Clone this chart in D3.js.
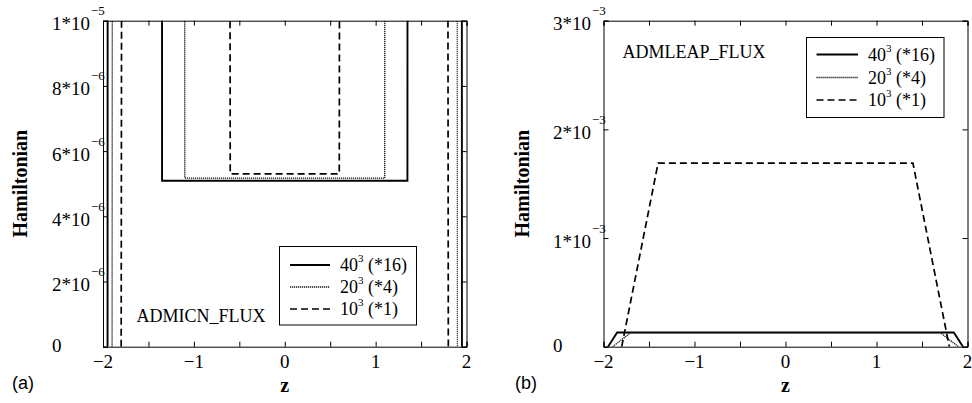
<!DOCTYPE html>
<html><head><meta charset="utf-8">
<script src="https://cdn.jsdelivr.net/npm/d3@7"></script>
<style>body{margin:0;background:#fff} svg{display:block}</style>
</head><body><svg id="c" width="972" height="403"></svg>
<script>
// ---- shared axis data ----
const zTicks = [-2, -1.5, -1, -0.5, 0, 0.5, 1, 1.5, 2];
const zTickLabels = ["−2", "", "−1", "", "0", "", "1", "", "2"];

// ---- panel (a) ADMICN_FLUX ----
const aYTicks = [0, 2e-6, 4e-6, 6e-6, 8e-6, 1e-5];
const aYMant = ["0", "2*10", "4*10", "6*10", "8*10", "1*10"];
const aYExp = ["", "−6", "−6", "−6", "−6", "−5"];
const icn40_z = [-1.95, -1.85, -1.45, -1.35, 1.35, 1.45, 1.85, 1.95];
const icn40_H = [0, 1e-3, 1e-3, 5.09e-6, 5.09e-6, 1e-3, 1e-3, 0];
const icn20_z = [-1.9, -1.7, -1.3, -1.1, 1.1, 1.3, 1.7, 1.9];
const icn20_H = [0, 1e-3, 1e-3, 5.17e-6, 5.17e-6, 1e-3, 1e-3, 0];
const icn10_z = [-1.8, -1.4, -1.0, -0.6, 0.6, 1.0, 1.4, 1.8];
const icn10_H = [0, 1e-3, 1e-3, 5.3e-6, 5.3e-6, 1e-3, 1e-3, 0];

// ---- panel (b) ADMLEAP_FLUX ----
const bYTicks = [0, 1e-3, 2e-3, 3e-3];
const bYMant = ["0", "1*10", "2*10", "3*10"];
const bYExp = ["", "−3", "−3", "−3"];
const leap40_z = [-1.95, -1.85, 1.85, 1.95];
const leap40_H = [0, 1.3e-4, 1.3e-4, 0];
const leap20_z = [-1.9, -1.7, 1.7, 1.9];
const leap20_H = [0, 1.3e-4, 1.3e-4, 0];
const leap10_z = [-1.8, -1.4, 1.4, 1.8];
const leap10_H = [0, 1.69e-3, 1.69e-3, 0];

// ---- legend ----
const legendBase = ["40", "20", "10"];
const legendSup = ["3", "3", "3"];
const legendFactor = [" (*16)", " (*4)", " (*1)"];

const styles = [
  {w: 1.9, dash: null, col: "#000"},
  {w: 1.3, dash: "1.2,0.8", col: "#111"},
  {w: 1.7, dash: "7,4", col: "#000"}
];

const svg = d3.select("#c");
const SERIF = "'Liberation Serif','Times New Roman',serif";

function panel(cfg) {
  const g = svg.append("g");
  const x = d3.scaleLinear().domain([-2, 2]).range([cfg.x0, cfg.x1]);
  const y = d3.scaleLinear().domain([0, cfg.yMax]).range([cfg.y1, cfg.y0]);
  const clipId = "clip" + cfg.id;
  svg.append("clipPath").attr("id", clipId).append("rect")
    .attr("x", cfg.x0).attr("y", cfg.y0)
    .attr("width", cfg.x1 - cfg.x0).attr("height", cfg.y1 - cfg.y0);

  // series
  const line = d3.line().x(d => x(d[0])).y(d => y(d[1]));
  cfg.series.forEach((s, i) => {
    const pts = s.z.map((z, k) => [z, s.H[k]]);
    g.append("path").attr("clip-path", `url(#${clipId})`)
      .attr("d", line(pts)).attr("fill", "none")
      .attr("stroke", styles[i].col).attr("stroke-width", styles[i].w)
      .attr("stroke-dasharray", styles[i].dash);
  });

  // axes (ticks inward on all sides)
  const tl = 5;
  const bottom = d3.axisBottom(x).tickValues(zTicks).tickSize(-tl).tickFormat("");
  const top = d3.axisTop(x).tickValues(zTicks).tickSize(-tl).tickFormat("");
  const left = d3.axisLeft(y).tickValues(cfg.yTicks).tickSize(-tl).tickFormat("");
  const right = d3.axisRight(y).tickValues(cfg.yTicks).tickSize(-tl).tickFormat("");
  [[bottom, `translate(0,${cfg.y1})`], [top, `translate(0,${cfg.y0})`],
   [left, `translate(${cfg.x0},0)`], [right, `translate(${cfg.x1},0)`]].forEach(([ax, tr]) => {
    const a = g.append("g").attr("transform", tr).call(ax);
    a.select(".domain").attr("stroke", "#000").attr("stroke-width", 1);
    a.selectAll(".tick line").attr("stroke", "#000").attr("stroke-width", 1);
  });

  // x tick labels
  g.append("g").selectAll("text").data(zTicks).join("text")
    .attr("x", d => x(d)).attr("y", cfg.y1 + 21)
    .attr("text-anchor", "middle").attr("font-family", SERIF).attr("font-size", 19)
    .text((d, i) => zTickLabels[i]);

  // y tick labels
  const yl = g.append("g").selectAll("text").data(cfg.yTicks).join("text")
    .attr("x", cfg.labX)
    .attr("y", (d, i) => y(d) + (cfg.yExp[i] ? 9.5 : 5.5))
    .attr("font-family", SERIF).attr("font-size", 19);
  yl.append("tspan").text((d, i) => cfg.yMant[i]);
  yl.append("tspan").attr("dy", -15).attr("dx", 1).attr("font-size", 13)
    .text((d, i) => cfg.yExp[i]);

  // axis titles
  g.append("text").attr("transform", `translate(${cfg.yLabX},${(cfg.y0 + cfg.y1) / 2}) rotate(-90)`)
    .attr("text-anchor", "middle").attr("dy", "0.35em")
    .attr("font-family", SERIF).attr("font-weight", "bold").attr("font-size", 20)
    .text("Hamiltonian");
  g.append("text").attr("x", (cfg.x0 + cfg.x1) / 2).attr("y", 392)
    .attr("text-anchor", "middle")
    .attr("font-family", SERIF).attr("font-weight", "bold").attr("font-size", 20)
    .text("z");
  g.append("text").attr("x", cfg.tagX).attr("y", 389)
    .attr("font-family", "'Liberation Sans',Arial,sans-serif").attr("font-size", 18)
    .text(cfg.tag);

  // scheme name
  g.append("text").attr("x", cfg.nameX).attr("y", cfg.nameY)
    .attr("font-family", SERIF).attr("font-size", 18).text(cfg.name);

  // legend
  const L = cfg.leg;
  const lg = g.append("g");
  lg.append("rect").attr("x", L.x0).attr("y", L.y0)
    .attr("width", L.x1 - L.x0).attr("height", L.y1 - L.y0)
    .attr("fill", "#fff").attr("stroke", "#000").attr("stroke-width", 1);
  legendBase.forEach((b, i) => {
    const ry = L.rows[i];
    lg.append("line").attr("x1", L.lx0).attr("x2", L.lx1).attr("y1", ry).attr("y2", ry)
      .attr("stroke", styles[i].col).attr("stroke-width", styles[i].w)
      .attr("stroke-dasharray", styles[i].dash);
    const t = lg.append("text").attr("x", L.tx).attr("y", ry + 6)
      .attr("font-family", SERIF).attr("font-size", 18);
    t.append("tspan").text(b);
    t.append("tspan").attr("dy", -9).attr("font-size", 11).text(legendSup[i]);
    t.append("tspan").attr("dy", 9).text(legendFactor[i]);
  });
}

panel({
  id: "a", x0: 103, x1: 466.5, y0: 20.7, y1: 346.7, yMax: 1e-5,
  yTicks: aYTicks, yMant: aYMant, yExp: aYExp, labX: 52, yLabX: 19.5,
  tag: "(a)", tagX: 12, name: "ADMICN_FLUX", nameX: 136.5, nameY: 322,
  series: [{z: icn40_z, H: icn40_H}, {z: icn20_z, H: icn20_H}, {z: icn10_z, H: icn10_H}],
  leg: {x0: 279.5, x1: 416.5, y0: 246.5, y1: 325, rows: [265, 287, 309], lx0: 290, lx1: 330, tx: 340}
});

panel({
  id: "b", x0: 603.5, x1: 967.5, y0: 20.7, y1: 346.7, yMax: 3e-3,
  yTicks: bYTicks, yMant: bYMant, yExp: bYExp, labX: 553, yLabX: 522,
  tag: "(b)", tagX: 515, name: "ADMLEAP_FLUX", nameX: 622.5, nameY: 58,
  series: [{z: leap40_z, H: leap40_H}, {z: leap20_z, H: leap20_H}, {z: leap10_z, H: leap10_H}],
  leg: {x0: 806.5, x1: 944, y0: 37.5, y1: 117.5, rows: [54.5, 77.5, 100], lx0: 816.5, lx1: 858, tx: 868}
});
</script></body></html>
